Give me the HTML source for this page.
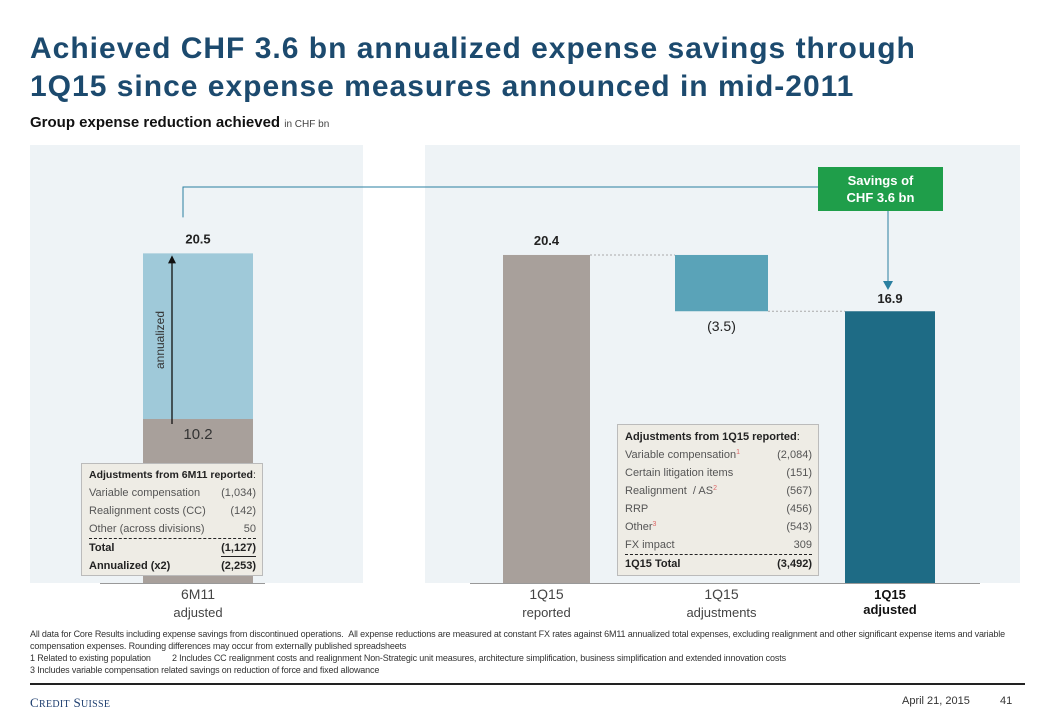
<!DOCTYPE html>
<html><head><meta charset="utf-8"><style>
body{margin:0;width:1040px;height:720px;background:#fff;font-family:"Liberation Sans",sans-serif;position:relative;overflow:hidden}
.a{position:absolute}
h1{position:absolute;left:30px;top:30px;margin:0;font-size:30px;line-height:38px;color:#1c4a6e;font-weight:bold;width:930px;letter-spacing:1px}
.tb{position:absolute;background:#eeece5;border:1px solid #bbb;font-size:11px;color:#555}
.tb .r{display:flex;justify-content:space-between;height:18px;line-height:18px}
.tb .h{height:18px;line-height:18px;color:#222;white-space:nowrap}
.tb b{color:#222}
.foot{font-size:9px;color:#333;line-height:12px;letter-spacing:-0.15px}
sup{color:#d66;font-size:7px;line-height:0;vertical-align:4px}
</style></head><body>
<h1>Achieved CHF 3.6 bn annualized expense savings through 1Q15 since expense measures announced in mid-2011</h1>
<div class="a" style="left:30px;top:114px;font-size:15px;font-weight:bold;color:#111">Group expense reduction achieved <span style="font-size:10px;font-weight:normal;color:#444">in CHF bn</span></div>
<div class="a" style="left:30px;top:145px;width:333px;height:438px;background:#eef3f6"></div>
<div class="a" style="left:425px;top:145px;width:595px;height:438px;background:#eef3f6"></div>
<svg class="a" style="left:0;top:0" width="1040" height="720" id="ch"></svg>
<div class="a" style="left:818px;top:167px;width:125px;height:44px;background:#1f9e4a;color:#fff;font-weight:bold;font-size:13px;text-align:center;line-height:17px;padding-top:5px;box-sizing:border-box">Savings of<br>CHF 3.6 bn</div>
<div class="tb" style="left:81px;top:463px;width:182px;padding:0 6px 0 7px;box-sizing:border-box">
<div class="h" style="margin-top:2px;font-size:10.5px"><b>Adjustments from 6M11 reported</b>:</div>
<div class="r"><span>Variable compensation</span><span>(1,034)</span></div>
<div class="r"><span>Realignment costs (CC)</span><span>(142)</span></div>
<div class="r" style="border-bottom:1px dashed #222"><span>Other (across divisions)</span><span>50</span></div>
<div class="r"><b>Total</b><b style="border-bottom:1px solid #222">(1,127)</b></div>
<div class="r"><b>Annualized (x2)</b><b>(2,253)</b></div>
</div>
<div class="tb" style="left:617px;top:424px;width:202px;padding:0 6px 2px 7px;box-sizing:border-box;background:#eeece5">
<div class="h" style="margin-top:3px"><b>Adjustments from 1Q15 reported</b>:</div>
<div class="r"><span>Variable compensation<sup>1</sup></span><span>(2,084)</span></div>
<div class="r"><span>Certain litigation items</span><span>(151)</span></div>
<div class="r"><span>Realignment &nbsp;/ AS<sup>2</sup></span><span>(567)</span></div>
<div class="r"><span>RRP</span><span>(456)</span></div>
<div class="r"><span>Other<sup>3</sup></span><span>(543)</span></div>
<div class="r" style="border-bottom:1px dashed #222"><span>FX impact</span><span>309</span></div>
<div class="r"><b>1Q15 Total</b><b>(3,492)</b></div>
</div>
<div class="a foot" style="left:30px;top:628px;width:1000px">All data for Core Results including expense savings from discontinued operations. &nbsp;All expense reductions are measured at constant FX rates against 6M11 annualized total expenses, excluding realignment and other significant expense items and variable compensation expenses. Rounding differences may occur from externally published spreadsheets<br>1 Related to existing population &nbsp; &nbsp; &nbsp; &nbsp; 2 Includes CC realignment costs and realignment Non-Strategic unit measures, architecture simplification, business simplification and extended innovation costs<br>3 Includes variable compensation related savings on reduction of force and fixed allowance</div>
<div class="a" style="left:30px;top:683px;width:995px;height:2px;background:#222"></div>
<div class="a" style="left:30px;top:695px;font-family:'Liberation Serif',serif;font-size:13px;color:#1c3d6e;letter-spacing:0.3px">C<span style="font-size:10px">REDIT</span> S<span style="font-size:10px">UISSE</span></div>
<div class="a" style="left:902px;top:695px;font-size:11px;color:#333">April 21, 2015</div>
<div class="a" style="left:1000px;top:695px;font-size:11px;color:#333">41</div>
<script>
const categories=["6M11 adjusted","1Q15 reported","1Q15 adjustments","1Q15 adjusted"];
const totals=[20.5,20.4,-3.5,16.9];
const baseLower=[10.2];
const valueLabels=["20.5","20.4","(3.5)","16.9"];
const svg=document.getElementById('ch'),NS='http://www.w3.org/2000/svg';
const base=583,ppu=16.08;
const y=v=>base-v*ppu;
const xs=[143,503,675,845],ws=[110,87,93,90];
function el(t,a){const e=document.createElementNS(NS,t);for(const k in a)e.setAttribute(k,a[k]);svg.appendChild(e);return e;}
function tx(x,yy,s,o){const e=el('text',Object.assign({x:x,y:yy,'text-anchor':'middle','font-family':'Liberation Sans, sans-serif','font-size':13,fill:'#222'},o||{}));e.textContent=s;return e;}
let b=el('rect',{x:xs[0],y:y(totals[0]),width:ws[0],height:y(baseLower[0])-y(totals[0]),fill:'#9fc9d9'});

b=el('rect',{x:xs[0],y:y(baseLower[0]),width:ws[0],height:base-y(baseLower[0]),fill:'#a8a09b'});

tx(xs[0]+ws[0]/2,y(baseLower[0])+20,baseLower[0].toFixed(1),{'font-size':15,fill:'#333'});
b=el('rect',{x:xs[1],y:y(totals[1]),width:ws[1],height:base-y(totals[1]),fill:'#a8a09b'});

const adjTop=totals[1],adjBot=totals[1]+totals[2];
b=el('rect',{x:xs[2],y:y(adjTop),width:ws[2],height:y(adjBot)-y(adjTop),fill:'#5aa3b8'});

b=el('rect',{x:xs[3],y:y(totals[3]),width:ws[3],height:base-y(totals[3]),fill:'#1e6b85'});

el('line',{x1:xs[1]+ws[1],x2:xs[2],y1:y(adjTop),y2:y(adjTop),stroke:'#aaa','stroke-dasharray':'2,2'});
el('line',{x1:xs[2]+ws[2],x2:xs[3],y1:y(adjBot),y2:y(adjBot),stroke:'#aaa','stroke-dasharray':'2,2'});
tx(xs[0]+ws[0]/2,y(totals[0])-10,valueLabels[0],{'font-weight':'bold'});
tx(xs[1]+ws[1]/2,y(totals[1])-10,valueLabels[1],{'font-weight':'bold'});
tx(xs[2]+ws[2]/2,y(adjBot)+20,valueLabels[2],{'font-size':14});
tx(xs[3]+ws[3]/2,y(totals[3])-8,valueLabels[3],{'font-weight':'bold'});
el('line',{x1:172,x2:172,y1:y(baseLower[0])+5,y2:y(totals[0])+8,stroke:'#111','stroke-width':1.3});
el('polygon',{points:`168,${y(totals[0])+10} 176,${y(totals[0])+10} 172,${y(totals[0])+2}`,fill:'#111'});
tx(0,0,'annualized',{transform:'translate(164,340) rotate(-90)','font-size':12,fill:'#333'});
el('polyline',{points:`183,${y(totals[0])-36} 183,187 818,187`,fill:'none',stroke:'#2a7fa0','stroke-width':1});
el('line',{x1:888,x2:888,y1:211,y2:281,stroke:'#2a7fa0'});
el('polygon',{points:'883,281 893,281 888,290',fill:'#2a7fa0'});
el('line',{x1:100,x2:265,y1:base+0.5,y2:base+0.5,stroke:'#999'});
el('line',{x1:470,x2:980,y1:base+0.5,y2:base+0.5,stroke:'#999'});
const cl=[["6M11","adjusted"],["1Q15","reported"],["1Q15","adjustments"],["1Q15","adjusted"]];
cl.forEach((c,i)=>{const bold=i==3;const cx=xs[i]+ws[i]/2;
tx(cx,599,c[0],{'font-size':bold?13:14,'font-weight':bold?'bold':'normal',fill:bold?'#111':'#444'});
tx(cx,bold?614:617,c[1],{'font-size':13,'font-weight':bold?'bold':'normal',fill:bold?'#111':'#444'});});
</script>
</body></html>
